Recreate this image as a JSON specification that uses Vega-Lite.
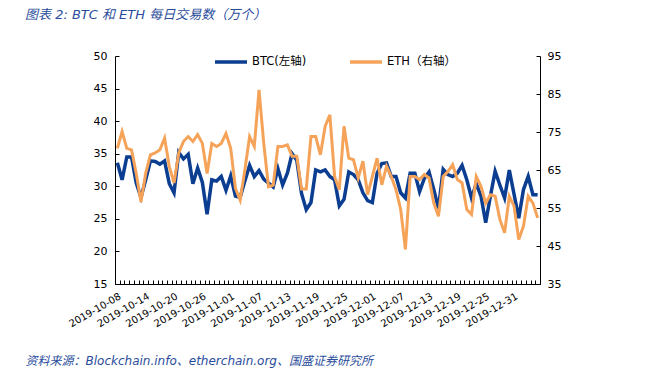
{
  "$schema": "https://vega.github.io/schema/vega-lite/v6.json",
  "width": 425,
  "height": 228,
  "autosize": {"type": "none"},
  "padding": {"left": 115, "top": 56, "right": 123, "bottom": 87},
  "background": "white",
  "title": {
    "text": "图表 2: BTC 和 ETH 每日交易数（万个）",
    "anchor": "start",
    "frame": "group",
    "dx": -90,
    "offset": 12,
    "baseline": "alphabetic",
    "fontSize": 13,
    "fontStyle": "italic",
    "fontWeight": "normal",
    "color": "#2A4D9B",
    "font": "DejaVu Sans, Noto Sans CJK SC"
  },
  "config": {
    "view": {"stroke": null},
    "axis": {"grid": false, "domainColor": "black", "tickColor": "black", "labelColor": "black", "labelFont": "DejaVu Sans"}
  },
  "data": {
    "values": [
      {"d": "2019-10-08", "BTC": 33.6, "ETH": 70.7},
      {"d": "2019-10-09", "BTC": 31.0, "ETH": 75.1},
      {"d": "2019-10-10", "BTC": 34.5, "ETH": 70.7},
      {"d": "2019-10-11", "BTC": 34.5, "ETH": 70.3},
      {"d": "2019-10-12", "BTC": 30.5, "ETH": 64.1},
      {"d": "2019-10-13", "BTC": 28.3, "ETH": 56.6},
      {"d": "2019-10-14", "BTC": 31.0, "ETH": 64.1},
      {"d": "2019-10-15", "BTC": 33.9, "ETH": 69.0},
      {"d": "2019-10-16", "BTC": 33.8, "ETH": 69.5},
      {"d": "2019-10-17", "BTC": 33.4, "ETH": 70.3},
      {"d": "2019-10-18", "BTC": 33.9, "ETH": 73.4},
      {"d": "2019-10-19", "BTC": 30.4, "ETH": 65.9},
      {"d": "2019-10-20", "BTC": 29.0, "ETH": 61.6},
      {"d": "2019-10-21", "BTC": 35.2, "ETH": 69.5},
      {"d": "2019-10-22", "BTC": 34.2, "ETH": 72.5},
      {"d": "2019-10-23", "BTC": 34.9, "ETH": 73.8},
      {"d": "2019-10-24", "BTC": 30.4, "ETH": 72.5},
      {"d": "2019-10-25", "BTC": 32.8, "ETH": 74.3},
      {"d": "2019-10-26", "BTC": 30.6, "ETH": 72.0},
      {"d": "2019-10-27", "BTC": 25.7, "ETH": 64.1},
      {"d": "2019-10-28", "BTC": 31.0, "ETH": 72.0},
      {"d": "2019-10-29", "BTC": 30.8, "ETH": 71.2},
      {"d": "2019-10-30", "BTC": 31.5, "ETH": 72.0},
      {"d": "2019-10-31", "BTC": 29.4, "ETH": 74.6},
      {"d": "2019-11-01", "BTC": 31.6, "ETH": 70.7},
      {"d": "2019-11-02", "BTC": 28.5, "ETH": 60.2},
      {"d": "2019-11-03", "BTC": 28.3, "ETH": 57.1},
      {"d": "2019-11-04", "BTC": 30.8, "ETH": 65.0},
      {"d": "2019-11-05", "BTC": 33.2, "ETH": 73.8},
      {"d": "2019-11-06", "BTC": 31.5, "ETH": 71.2},
      {"d": "2019-11-07", "BTC": 32.4, "ETH": 86.1},
      {"d": "2019-11-08", "BTC": 31.1, "ETH": 72.0},
      {"d": "2019-11-09", "BTC": 30.5, "ETH": 60.6},
      {"d": "2019-11-10", "BTC": 29.9, "ETH": 61.0},
      {"d": "2019-11-11", "BTC": 32.7, "ETH": 71.2},
      {"d": "2019-11-12", "BTC": 30.2, "ETH": 71.2},
      {"d": "2019-11-13", "BTC": 32.0, "ETH": 71.6},
      {"d": "2019-11-14", "BTC": 35.0, "ETH": 68.6},
      {"d": "2019-11-15", "BTC": 34.0, "ETH": 68.6},
      {"d": "2019-11-16", "BTC": 28.9, "ETH": 60.0},
      {"d": "2019-11-17", "BTC": 26.4, "ETH": 60.0},
      {"d": "2019-11-18", "BTC": 27.5, "ETH": 73.8},
      {"d": "2019-11-19", "BTC": 32.5, "ETH": 73.8},
      {"d": "2019-11-20", "BTC": 32.2, "ETH": 69.0},
      {"d": "2019-11-21", "BTC": 32.5, "ETH": 76.5},
      {"d": "2019-11-22", "BTC": 31.5, "ETH": 79.5},
      {"d": "2019-11-23", "BTC": 31.0, "ETH": 63.3},
      {"d": "2019-11-24", "BTC": 27.0, "ETH": 59.8},
      {"d": "2019-11-25", "BTC": 28.0, "ETH": 76.5},
      {"d": "2019-11-26", "BTC": 32.2, "ETH": 68.1},
      {"d": "2019-11-27", "BTC": 31.8, "ETH": 67.7},
      {"d": "2019-11-28", "BTC": 31.0, "ETH": 62.9},
      {"d": "2019-11-29", "BTC": 29.0, "ETH": 67.3},
      {"d": "2019-11-30", "BTC": 27.8, "ETH": 58.5},
      {"d": "2019-12-01", "BTC": 27.5, "ETH": 63.3},
      {"d": "2019-12-02", "BTC": 32.0, "ETH": 68.1},
      {"d": "2019-12-03", "BTC": 33.5, "ETH": 61.1},
      {"d": "2019-12-04", "BTC": 33.6, "ETH": 66.0},
      {"d": "2019-12-05", "BTC": 31.5, "ETH": 63.3},
      {"d": "2019-12-06", "BTC": 31.5, "ETH": 59.8},
      {"d": "2019-12-07", "BTC": 29.0, "ETH": 54.6},
      {"d": "2019-12-08", "BTC": 28.2, "ETH": 44.1},
      {"d": "2019-12-09", "BTC": 32.0, "ETH": 63.3},
      {"d": "2019-12-10", "BTC": 32.0, "ETH": 63.3},
      {"d": "2019-12-11", "BTC": 29.2, "ETH": 62.5},
      {"d": "2019-12-12", "BTC": 31.2, "ETH": 63.8},
      {"d": "2019-12-13", "BTC": 32.2, "ETH": 62.9},
      {"d": "2019-12-14", "BTC": 29.5, "ETH": 56.3},
      {"d": "2019-12-15", "BTC": 26.6, "ETH": 52.8},
      {"d": "2019-12-16", "BTC": 32.6, "ETH": 63.3},
      {"d": "2019-12-17", "BTC": 31.8, "ETH": 64.6},
      {"d": "2019-12-18", "BTC": 31.5, "ETH": 66.4},
      {"d": "2019-12-19", "BTC": 32.0, "ETH": 62.5},
      {"d": "2019-12-20", "BTC": 33.2, "ETH": 61.6},
      {"d": "2019-12-21", "BTC": 31.0, "ETH": 54.6},
      {"d": "2019-12-22", "BTC": 28.2, "ETH": 53.3},
      {"d": "2019-12-23", "BTC": 30.4, "ETH": 63.3},
      {"d": "2019-12-24", "BTC": 28.5, "ETH": 60.7},
      {"d": "2019-12-25", "BTC": 24.4, "ETH": 56.3},
      {"d": "2019-12-26", "BTC": 28.5, "ETH": 58.5},
      {"d": "2019-12-27", "BTC": 32.3, "ETH": 58.1},
      {"d": "2019-12-28", "BTC": 30.2, "ETH": 52.0},
      {"d": "2019-12-29", "BTC": 28.2, "ETH": 48.5},
      {"d": "2019-12-30", "BTC": 32.5, "ETH": 58.1},
      {"d": "2019-12-31", "BTC": 28.8, "ETH": 55.5},
      {"d": "2020-01-01", "BTC": 25.1, "ETH": 46.7},
      {"d": "2020-01-02", "BTC": 29.5, "ETH": 50.2},
      {"d": "2020-01-03", "BTC": 31.5, "ETH": 58.1},
      {"d": "2020-01-04", "BTC": 28.7, "ETH": 56.3},
      {"d": "2020-01-05", "BTC": 28.7, "ETH": 52.4}
    ]
  },
  "encoding": {
    "x": {
      "field": "d",
      "type": "ordinal",
      "sort": null,
      "scale": {"paddingInner": 0, "paddingOuter": 0},
      "axis": {
        "title": "资料来源：Blockchain.info、etherchain.org、国盛证券研究所",
        "titleX": -90,
        "titleY": 80,
        "titleAlign": "left",
        "titleAnchor": "start",
        "titleBaseline": "alphabetic",
        "titleFont": "DejaVu Sans, Noto Sans CJK SC",
        "titleFontStyle": "italic",
        "titleFontWeight": "normal",
        "titleFontSize": 12,
        "titleColor": "#2A4D9B",
        "labelAngle": -30,
        "labelAlign": "right",
        "labelBaseline": "top",
        "labelFontSize": 10,
        "labelPadding": 11,
        "labelOverlap": false,
        "labelExpr": "indexof(['2019-10-08','2019-10-14','2019-10-20','2019-10-26','2019-11-01','2019-11-07','2019-11-13','2019-11-19','2019-11-25','2019-12-01','2019-12-07','2019-12-13','2019-12-19','2019-12-25','2019-12-31'], datum.value) >= 0 ? datum.value : ''",
        "tickBand": "extent",
        "tickSize": -4
      }
    }
  },
  "layer": [
    {
      "mark": {"type": "line", "strokeWidth": 3.5},
      "encoding": {
        "y": {
          "field": "BTC",
          "type": "quantitative",
          "scale": {"domain": [15, 50], "nice": false, "zero": false},
          "axis": {"orient": "left", "title": null, "values": [15, 20, 25, 30, 35, 40, 45, 50], "tickSize": -4, "labelPadding": 12, "labelFontSize": 11}
        },
        "color": {
          "datum": "BTC(左轴)",
          "scale": {"domain": ["BTC(左轴)", "ETH（右轴）"], "range": ["#0B3D91", "#F6A35A"]},
          "legend": {
            "title": null,
            "orient": "none",
            "direction": "horizontal",
            "legendX": 98,
            "legendY": -12,
            "symbolType": "stroke",
            "symbolSize": 1024,
            "symbolStrokeWidth": 3.5,
            "labelFont": "DejaVu Sans, Noto Sans CJK SC",
            "labelFontSize": 11.5,
            "labelColor": "black",
            "labelOffset": 3,
            "columnPadding": 36
          }
        }
      }
    },
    {
      "mark": {"type": "line", "strokeWidth": 3},
      "encoding": {
        "y": {
          "field": "ETH",
          "type": "quantitative",
          "scale": {"domain": [35, 95], "nice": false, "zero": false},
          "axis": {"orient": "right", "title": null, "values": [35, 45, 55, 65, 75, 85, 95], "tickSize": -4, "labelPadding": 11, "labelFontSize": 11}
        },
        "color": {"datum": "ETH（右轴）"}
      }
    }
  ],
  "resolve": {"scale": {"y": "independent"}}
}
